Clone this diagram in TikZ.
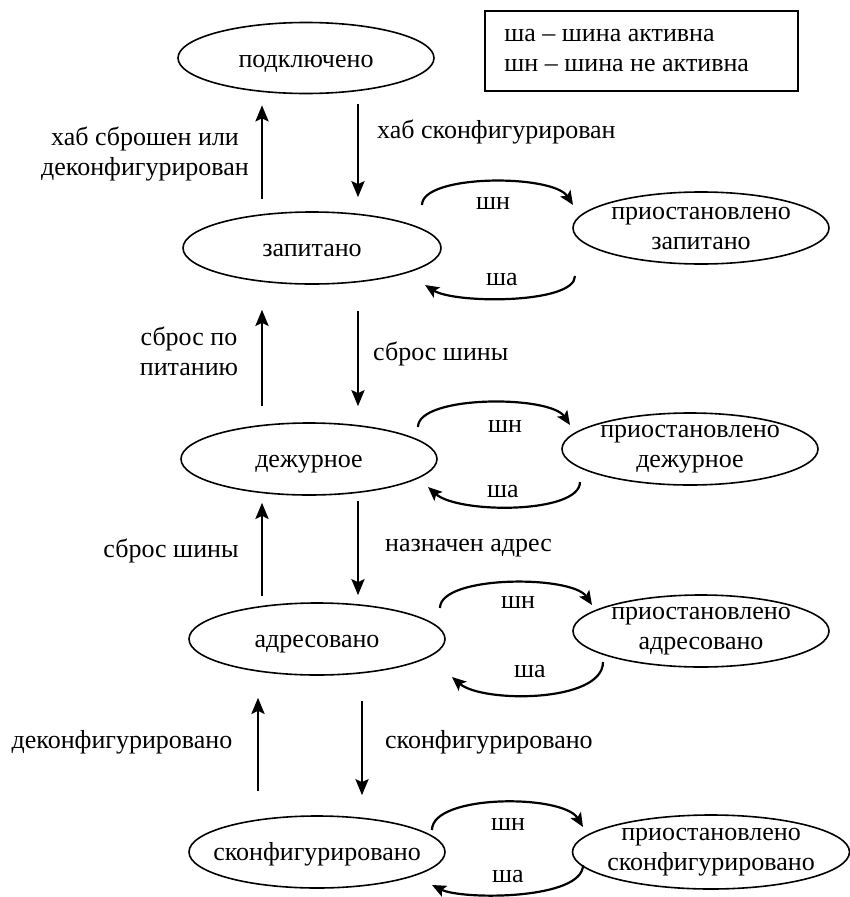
\documentclass[tikz,border=0pt]{standalone}
\usepackage{fontspec}
\setmainfont{Liberation Serif}
\usetikzlibrary{arrows.meta,calc,shapes.geometric}
\begin{document}
\begin{tikzpicture}[x=1pt,y=-1pt,
  every node/.style={font=\fontsize{26}{30}\selectfont},
  statebox/.style={draw,ellipse,line width=1.6pt,inner sep=0pt,
    minimum width=256pt,minimum height=72pt},
  txt/.style={inner sep=0pt,align=center},
  varrow/.style={line width=2.8pt,-{Stealth[length=16pt,width=13pt,inset=3pt]}},
  loop/.style={line width=2.2pt,-{Stealth[length=14pt,width=12pt,inset=3pt]}},
  legendbox/.style={draw,line width=1.6pt,minimum width=313pt,minimum height=80pt}]
\useasboundingbox (0,0) rectangle (850,897);

% main states
\node[statebox,minimum height=71pt] (m1) at (306,58) {};
\node[statebox,minimum width=258pt] (m2) at (312,248) {};
\node[statebox] (m3) at (309,459) {};
\node[statebox] (m4) at (317,639) {};
\node[statebox] (m5) at (317,852) {};
\node[txt,anchor=base] (t1) at ($(m1.center)+(0,9)$) {подключено};
\node[txt,anchor=base] (t2) at ($(m2.center)+(0,8)$) {запитано};
\node[txt,anchor=base] (t3) at ($(m3.center)+(0,8)$) {дежурное};
\node[txt,anchor=base] (t4) at ($(m4.center)+(0,8)$) {адресовано};
\node[txt,anchor=base] (t5) at ($(m5.center)+(0,8)$) {сконфигурировано};

% suspended states
\node[statebox] (s2) at (701,228) {};
\node[statebox] (s3) at (690,449) {};
\node[statebox] (s4) at (701,631) {};
\node[statebox,minimum width=277pt,minimum height=74pt] (s5) at (711,852) {};
\node[txt] (u2) at (s2) {приостановлено\\запитано};
\node[txt] (u3) at (s3) {приостановлено\\дежурное};
\node[txt] (u4) at (s4) {приостановлено\\адресовано};
\node[txt] (u5) at (s5) {приостановлено\\сконфигурировано};

% legend
\node[legendbox] (leg) at (641.5,51) {};
\node[inner sep=0pt,align=left,anchor=west] (legtxt) at ($(leg.west)+(20,0)$)
  {ша – шина активна\\шн – шина не активна};

% vertical transitions
\coordinate (cL) at (262,0);
\coordinate (cR) at (358,0);
\coordinate (cL4) at (258,0);
\coordinate (cR4) at (362,0);
\draw[varrow,shorten <=12pt,shorten >=11pt] (m2.north -| cL) -- (m1.south -| cL);
\draw[varrow,shorten <=10pt,shorten >=14pt] (m1.south -| cR) -- (m2.north -| cR);
\draw[varrow,shorten <=16pt,shorten >=25pt] (m3.north -| cL) -- (m2.south -| cL);
\draw[varrow,shorten <=26pt,shorten >=16pt] (m2.south -| cR) -- (m3.north -| cR);
\draw[varrow,shorten <=6pt,shorten >=7pt] (m4.north -| cL) -- (m3.south -| cL);
\draw[varrow,shorten <=5pt,shorten >=7pt] (m3.south -| cR) -- (m4.north -| cR);
\draw[varrow,shorten <=24pt,shorten >=22pt] (m5.north -| cL4) -- (m4.south -| cL4);
\draw[varrow,shorten <=25pt,shorten >=20pt] (m4.south -| cR4) -- (m5.north -| cR4);

% transition labels
\node[txt] (l1a) at (145,154) {хаб сброшен или\\деконфигурирован};
\node[txt,anchor=base west] (l1b) at (377,138) {хаб сконфигурирован};
\node[txt] (l2a) at (189,351) {сброс по\\питанию};
\node[txt,anchor=base west] (l2b) at (373,360) {сброс шины};
\node[txt,anchor=base] (l3a) at (171,557) {сброс шины};
\node[txt,anchor=base west] (l3b) at (385,551) {назначен адрес};
\node[txt,anchor=base] (l4a) at (122,748) {деконфигурировано};
\node[txt,anchor=base west] (l4b) at (385,748) {сконфигурировано};

% suspend / resume loops
\coordinate (a2) at (422,205); \coordinate (b2) at (573,205);
\coordinate (c2) at (575,276); \coordinate (d2) at (425,285);
\draw[loop] (a2) .. controls (422,174) and (553,174) .. (b2);
\draw[loop] (c2) .. controls (575,304) and (455,304) .. (d2);
\node[txt,anchor=base] (n2) at (493,209) {шн};
\node[txt,anchor=base] (r2) at (502,285) {ша};

\coordinate (a3) at (418,427); \coordinate (b3) at (570,425);
\coordinate (c3) at (580,482); \coordinate (d3) at (428,487);
\draw[loop] (a3) .. controls (418,395) and (550,395) .. (b3);
\draw[loop] (c3) .. controls (580,514) and (458,514) .. (d3);
\node[txt,anchor=base] (n3) at (505,432) {шн};
\node[txt,anchor=base] (r3) at (503,497) {ша};

\coordinate (a4) at (440,608); \coordinate (b4) at (592,605);
\coordinate (c4) at (603,662); \coordinate (d4) at (452,677);
\draw[loop] (a4) .. controls (440,575) and (572,575) .. (b4);
\draw[loop] (c4) .. controls (603,703) and (482,703) .. (d4);
\node[txt,anchor=base] (n4) at (518,608) {шн};
\node[txt,anchor=base] (r4) at (530,677) {ша};

\coordinate (a5) at (432,830); \coordinate (b5) at (583,827);
\coordinate (c5) at (583,865); \coordinate (d5) at (432,885);
\draw[loop] (a5) .. controls (432,794) and (563,794) .. (b5);
\draw[loop] (c5) .. controls (583,900) and (462,900) .. (d5);
\node[txt,anchor=base] (n5) at (508,830) {шн};
\node[txt,anchor=base] (r5) at (508,882) {ша};
\end{tikzpicture}
\end{document}
